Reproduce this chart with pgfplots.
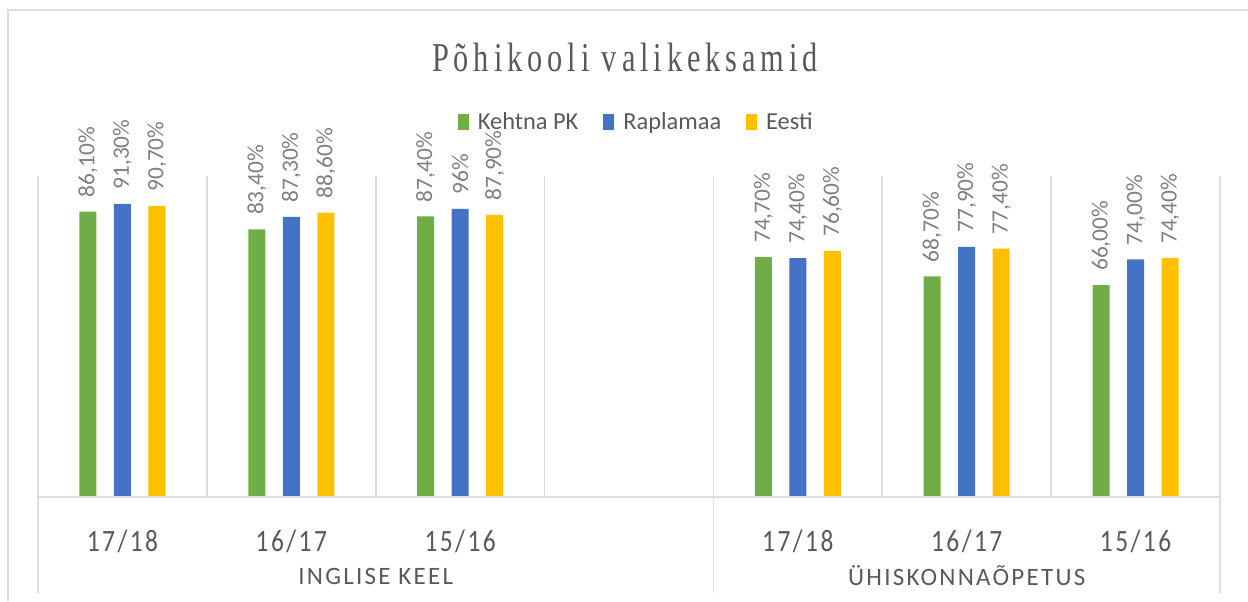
\documentclass[border=0pt]{standalone}
\usepackage{fontspec}
\setmainfont{Carlito}
\newfontfamily\calticks[FakeStretch=0.82,LetterSpace=8]{Carlito}
\newfontfamily\calcaps[LetterSpace=9]{Carlito}
\newfontfamily\titlefont[FakeStretch=0.74,LetterSpace=12]{Liberation Serif}
\usepackage{pgfplots}
\usepackage{pgfplotstable}
\pgfplotsset{compat=1.18}

\definecolor{kgreen}{HTML}{70AD47}
\definecolor{kblue}{HTML}{4472C4}
\definecolor{kyellow}{HTML}{FFC000}
\definecolor{tgray}{HTML}{595959}
\definecolor{lgray}{HTML}{808080}
\definecolor{sepgray}{HTML}{DEDEDE}

% bar heights as drawn, labels as printed
\pgfplotstableread{
x y lbl
0 88.9 86,10\%
1 83.4 83,40\%
2 87.4 87,40\%
4 74.7 74,70\%
5 68.7 68,70\%
6 66.0 66,00\%
}\kehtna
\pgfplotstableread{
x y lbl
0 91.3 91,30\%
1 87.3 87,30\%
2 89.8 96\%
4 74.4 74,40\%
5 77.9 77,90\%
6 74.0 74,00\%
}\rapla
\pgfplotstableread{
x y lbl
0 90.7 90,70\%
1 88.6 88,60\%
2 87.9 87,90\%
4 76.6 76,60\%
5 77.4 77,40\%
6 74.4 74,40\%
}\eesti

\pgfplotsset{
  sqlegend/.style={legend image code/.code={\fill[##1] (0pt,-4.2pt) rectangle (5.5pt,4.2pt);}},
  barstyle/.style 2 args={ybar, bar width=8.5pt, bar shift=#2, draw=none, fill=#1,
    nodes near coords, point meta=explicit symbolic,
    nodes near coords style={xshift=#2, rotate=90, anchor=west, inner xsep=7pt, inner ysep=0pt,
      font=\fontsize{11.7}{12}\selectfont, text=lgray},
    sqlegend},
}

\begin{document}
\begin{tikzpicture}
\path[use as bounding box] (0,0) rectangle (624pt,-300.5pt);
% chart frame (cropped at right and bottom)
\draw[line width=1.3pt, color=sepgray] (4pt,-300.5pt) -- (4pt,-5pt) -- (624pt,-5pt);
\node[font=\titlefont\fontsize{20.5}{24}\selectfont, text=tgray, anchor=base] at (312.5pt,-35.5pt) {Põhikooli valikeksamid};
\begin{axis}[
  at={(19pt,-248.5pt)}, anchor=south west,
  scale only axis, width=591pt, height=160.5pt,
  xmin=-0.5, xmax=6.5, ymin=0, ymax=100,
  clip=false,
  axis line style={draw=none},
  ytick=\empty,
  xtick={0,1,2,4,5,6},
  xticklabels={17/18,16/17,15/16,17/18,16/17,15/16},
  minor xtick={-0.5,0.5,...,6.5},
  xminorgrids, minor grid style={sepgray, line width=0.9pt},
  major tick length=0pt, minor tick length=0pt,
  xticklabel style={font=\calticks\fontsize{15.5}{15}\selectfont, text=tgray, anchor=center, yshift=-22pt},
  legend style={at={(0.507,1.168)}, anchor=center, draw=none, fill=none,
    legend columns=3, font=\fontsize{12.2}{14}\selectfont, text=tgray,
    /tikz/every odd column/.append style={column sep=2.5pt},
    /tikz/every even column/.append style={column sep=10.5pt}},
]
\addplot[barstyle={kgreen}{-17.25pt}] table[x=x, y=y, meta=lbl] {\kehtna};
\addlegendentry{Kehtna PK}
\addplot[barstyle={kblue}{0pt}] table[x=x, y=y, meta=lbl] {\rapla};
\addlegendentry{Raplamaa}
\addplot[barstyle={kyellow}{17.25pt}] table[x=x, y=y, meta=lbl] {\eesti};
\addlegendentry{Eesti}
% baseline and group separators below the axis
\draw[sepgray, line width=1.3pt] (axis cs:-0.5,0) -- (axis cs:6.5,0);
\draw[sepgray, line width=0.9pt] (axis cs:-0.5,0) -- ([yshift=-48pt]axis cs:-0.5,0);
\draw[sepgray, line width=0.9pt] (axis cs:3.5,0) -- ([yshift=-48pt]axis cs:3.5,0);
\draw[sepgray, line width=0.9pt] (axis cs:6.5,0) -- ([yshift=-48pt]axis cs:6.5,0);
\node[font=\calcaps\fontsize{12.5}{14}\selectfont, text=tgray] at ([yshift=-39.5pt]axis cs:1.5,0) {INGLISE KEEL};
\node[font=\calcaps\fontsize{12.5}{14}\selectfont, text=tgray] at ([yshift=-39.5pt]axis cs:5,0) {ÜHISKONNAÕPETUS};
\end{axis}
\end{tikzpicture}
\end{document}
